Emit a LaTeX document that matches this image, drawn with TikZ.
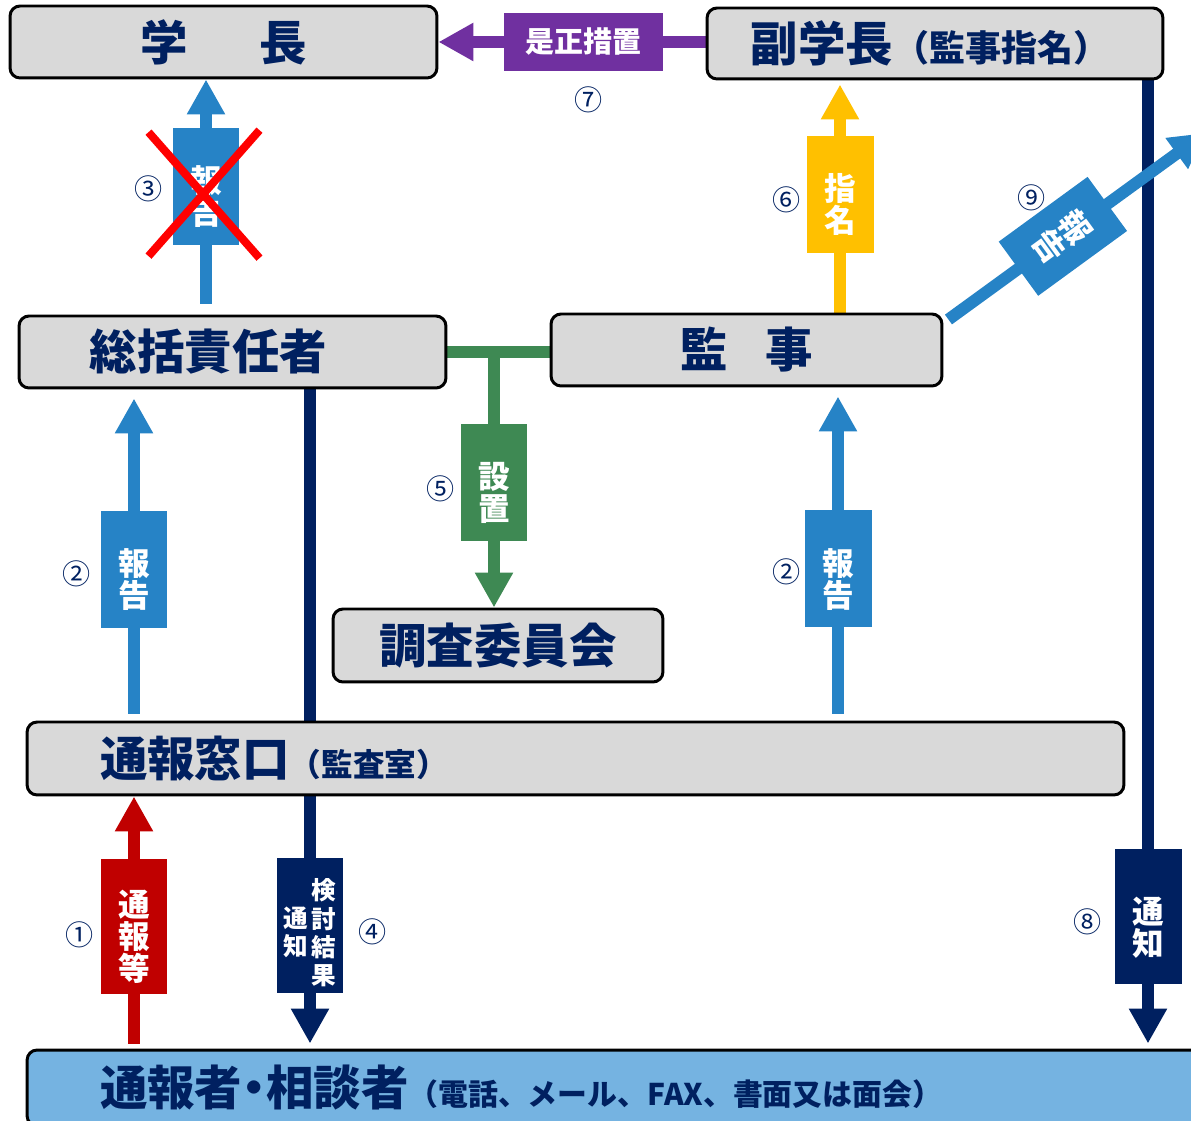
\documentclass[tikz,border=0pt]{standalone}
\usepackage{fontspec}
\setmainfont{Noto Sans CJK JP}
\usetikzlibrary{arrows.meta,calc}

\definecolor{navy}{RGB}{0,32,96}
\definecolor{boxgray}{RGB}{217,217,217}
\definecolor{callblue}{RGB}{117,179,225}
\definecolor{repblue}{RGB}{38,131,198}
\definecolor{repred}{RGB}{192,0,0}
\definecolor{setgreen}{RGB}{62,137,83}
\definecolor{nomyellow}{RGB}{255,192,0}
\definecolor{fixpurple}{RGB}{112,48,160}

\newcommand\bigfnt{\bfseries\fontsize{27}{30}\selectfont}
\newcommand\subfnt{\fontsize{18}{20}\selectfont}
\newcommand\tagfnt{\bfseries\fontsize{18}{18.2}\selectfont}
\newcommand\vup{\rule{0pt}{27pt}}

\pgfdeclarelayer{bg}
\pgfsetlayers{bg,main}

\begin{document}
\begin{tikzpicture}[x=0.02cm, y=-0.02cm,
  box/.style={draw=black, line width=1.7pt, rounded corners=0.2cm, fill=boxgray,
    text=navy, font=\bigfnt, inner sep=0pt},
  flow/.style={draw=#1, line width=0.24cm, -{Triangle[length=0.7cm, width=0.72cm]}},
  tag/.style={fill=#1, text=white, font=\tagfnt, align=center, inner sep=0pt,
    minimum width=1.34cm, minimum height=2.34cm},
  num/.style={text=navy, font=\fontsize{16}{16}\selectfont}]
  \useasboundingbox (0,0) rectangle (1191,1121);
  \clip (0,0) rectangle (1191,1121);

  % boxes
  \node[box, minimum width=8.54cm, minimum height=1.44cm] (gakucho) at (223.5,42) {学\hspace{1.5em}長};
  \node[box, minimum width=9.12cm, minimum height=1.42cm] (fukugaku) at (935,43.5)
    {副学長{\fontsize{20.5}{24}\selectfont（監事指名）}\hspace*{0.2cm}};
  \node[box, minimum width=8.54cm, minimum height=1.44cm] (sokatsu) at (232.5,352) {総括責任者\hspace*{0.96cm}};
  \node[box, minimum width=7.82cm, minimum height=1.44cm] (kanji) at (746.5,350) {監\hspace{0.8em}事};
  \node[box, minimum width=6.6cm, minimum height=1.46cm] (chosa) at (498,645.5) {調査委員会};
  \node[box, minimum width=21.94cm, minimum height=1.46cm, align=left, text width=19.02cm,
    inner xsep=1.46cm] (madoguchi) at (575.5,758.5) {通報窓口{\subfnt（監査室）}};
  \node[box, fill=callblue, minimum width=23.86cm, minimum height=1.52cm, align=left,
    text width=20.94cm, inner xsep=1.46cm] (tsuhosha) at (623.5,1088)
    {通報者\kern-0.25em・\kern-0.25em相談者{\fontsize{17}{20}\selectfont（電話、メール、FAX、書面又は面会）}};

  % columns of the arrows
  \coordinate (c1) at (134,0);
  \coordinate (c3) at (206,0);
  \coordinate (c4) at (310,0);
  \coordinate (c5) at (494,0);
  \coordinate (c2) at (838,0);
  \coordinate (c6) at (840,0);
  \coordinate (c8) at (1148,0);
  \coordinate (out9) at (1205,133);

  \begin{pgfonlayer}{bg}
    \draw[flow=repred, shorten <=0.1cm] (tsuhosha.north -| c1) -- (madoguchi.south -| c1)
      node[tag=repred, minimum height=2.7cm, pos=0.484] (tag1) {\vup 通\\報\\等};
    \draw[flow=repblue, shorten <=0.14cm, shorten >=0.18cm] (madoguchi.north -| c1) -- (sokatsu.south -| c1)
      node[tag=repblue, pos=0.457] (tag2a) {\vup 報\\告};
    \draw[flow=repblue, shorten <=0.14cm, shorten >=0.18cm] (madoguchi.north -| c2) -- (kanji.south -| c2)
      node[tag=repblue, pos=0.455] (tag2b) {\vup 報\\告};
    \draw[flow=repblue, shorten <=0.22cm] (sokatsu.north -| c3) -- (gakucho.south -| c3)
      node[tag=repblue, pos=0.544] (tag3) {\vup 報\\告};
    \draw[flow=navy, shorten >=0.1cm] (sokatsu.south -| c4) -- (tsuhosha.north -| c4)
      node[tag=navy, minimum height=2.7cm, pos=0.813, font=\bfseries\fontsize{14}{14.3}\selectfont] (tag4)
      {\raisebox{-9.2pt}[0pt][0pt]{\begin{tabular}{@{}c@{\hspace{2pt}}c@{}}
        \begin{tabular}{@{}c@{}}通\\知\end{tabular} &
        \begin{tabular}{@{}c@{}}検\\討\\結\\果\end{tabular}
      \end{tabular}}};
    \draw[draw=setgreen, line width=0.24cm] (sokatsu.east) -- (sokatsu.east -| kanji.west);
    \draw[flow=setgreen] (c5 |- sokatsu.east) -- (c5 |- chosa.north)
      node[tag=setgreen, pos=0.51] (tag5) {\vup 設\\置};
    \draw[flow=nomyellow, shorten >=0.08cm] (kanji.north -| c6) -- (fukugaku.south -| c6)
      node[tag=nomyellow, pos=0.51] (tag6) {\vup 指\\名};
    \draw[flow=fixpurple] (fukugaku.west |- gakucho.east) -- (gakucho.east)
      node[tag=fixpurple, font=\bfseries\fontsize{16.5}{18}\selectfont, minimum width=3.18cm,
        minimum height=1.16cm, pos=0.457] (tag7) {是正措置};
    \draw[flow=navy, shorten >=0.1cm] (fukugaku.south -| c8) -- (tsuhosha.north -| c8)
      node[tag=navy, minimum height=2.7cm, pos=0.864] (tag8) {\vup 通\\知};
    \draw[flow=repblue] ($(kanji.north east)+(5,7)$) -- (out9)
      node[tag=repblue, minimum height=2.2cm, pos=0.446, rotate=-53.9] (tag9) {報\\告};
  \end{pgfonlayer}

  % crossed out report
  \draw[red, line width=0.16cm] ($(tag3.north west)+(-18,10)$) -- ($(tag3.south east)+(14,7)$);
  \draw[red, line width=0.16cm] ($(tag3.south west)+(-18,5)$) -- ($(tag3.north east)+(14,8)$);

  % step numbers
  \node[num] (n1) at (80,935) {①};
  \node[num] (n2a) at (77,574) {②};
  \node[num] (n2b) at (787,572) {②};
  \node[num] (n3) at (149,189) {③};
  \node[num] (n4) at (373,932) {④};
  \node[num] (n5) at (441,489) {⑤};
  \node[num] (n6) at (787,200) {⑥};
  \node[num] (n7) at (589,100) {⑦};
  \node[num] (n8) at (1088,922) {⑧};
  \node[num] (n9) at (1032,198) {⑨};
\end{tikzpicture}
\end{document}
